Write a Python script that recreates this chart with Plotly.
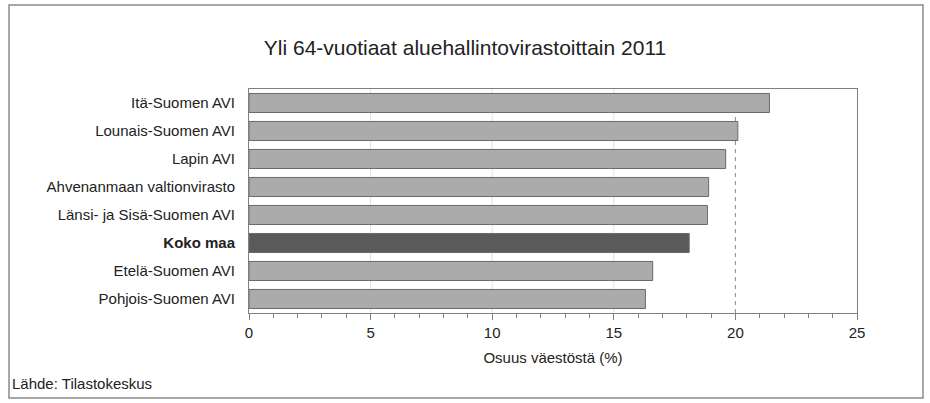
import plotly.graph_objects as go

categories = ["Itä-Suomen AVI", "Lounais-Suomen AVI", "Lapin AVI",
              "Ahvenanmaan valtionvirasto", "Länsi- ja Sisä-Suomen AVI",
              "Koko maa", "Etelä-Suomen AVI", "Pohjois-Suomen AVI"]
values = [21.4, 20.1, 19.6, 18.9, 18.85, 18.1, 16.6, 16.3]
highlight = "Koko maa"
x_ticks = [0, 5, 10, 15, 20, 25]
ref_line = 20
title = "Yli 64-vuotiaat aluehallintovirastoittain 2011"
x_title = "Osuus väestöstä (%)"
source = "Lähde: Tilastokeskus"

W, H = 930, 403
L, R, T, B = 249, 857, 89, 313

def px(x):
    return (x - L) / (R - L)

def py(y):
    return (B - y) / (B - T)

colors = ["#5a5a5a" if c == highlight else "#ababab" for c in categories]
ticktext = ["<b>%s</b>" % c if c == highlight else c for c in categories]

fig = go.Figure(go.Bar(
    y=categories, x=values, orientation="h",
    marker=dict(color=colors, line=dict(color="#6a6a6a", width=1)),
    width=0.68,
))

grid_shapes = [
    dict(type="line", xref="x", yref="paper", x0=v, x1=v, y0=0, y1=1,
         line=dict(color="#e0e0e0", width=1), layer="between")
    for v in x_ticks if 0 < v < 25 and v != ref_line
]

font = "Liberation Sans, Arial, sans-serif"
fig.update_layout(
    width=W, height=H,
    margin=dict(l=L, r=W - R, t=T, b=H - B),
    paper_bgcolor="white", plot_bgcolor="white",
    font=dict(family=font, size=15, color="#222"),
    showlegend=False,
    title=dict(text=title, x=465 / W, xanchor="center", y=1 - 48 / H,
               yanchor="middle", font=dict(size=21, color="#222")),
    xaxis=dict(range=[0, 25], tickvals=x_ticks, showgrid=False,
               zeroline=False,
               showline=True, linecolor="#808080", mirror=True,
               ticks="outside", ticklen=6, tickcolor="#808080",
               minor=dict(dtick=1, ticks="outside", ticklen=4,
                          tickcolor="#808080", showgrid=False),
               tickfont=dict(size=15),
               title=dict(text=x_title, font=dict(size=15), standoff=12)),
    yaxis=dict(categoryorder="array", categoryarray=categories[::-1],
               tickmode="array", tickvals=categories, ticktext=ticktext,
               showline=True, linecolor="#808080", mirror=True,
               ticks="", ticklabelstandoff=10, showgrid=False,
               tickfont=dict(size=15)),
    shapes=grid_shapes + [
        dict(type="line", xref="x", yref="paper", x0=ref_line, x1=ref_line,
             y0=0, y1=1, line=dict(color="#8a8a8a", width=1, dash="4px,4px"),
             layer="between"),
        dict(type="rect", xref="paper", yref="paper",
             x0=px(9), x1=px(923), y0=py(398), y1=py(5),
             line=dict(color="#8a8a8a", width=1.5), layer="above"),
    ],
    annotations=[
        dict(text=source, xref="paper", yref="paper", x=px(10), y=py(383),
             xanchor="left", yanchor="middle", showarrow=False,
             font=dict(size=15, color="#222")),
    ],
)

fig.write_html("out.html", config={"displayModeBar": False},
               post_script="document.body.style.margin='0';")
